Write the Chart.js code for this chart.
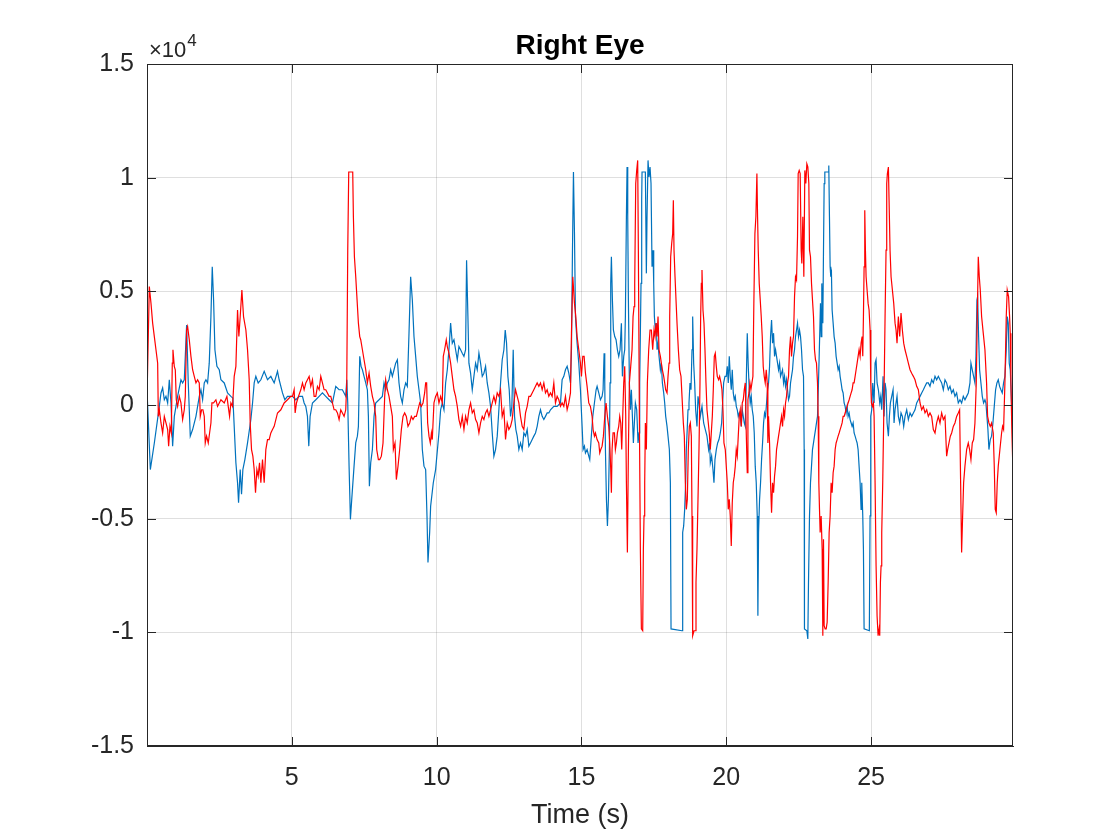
<!DOCTYPE html>
<html>
<head>
<meta charset="utf-8">
<script src="https://cdn.jsdelivr.net/npm/chart.js@4.4.1/dist/chart.umd.min.js"></script>
<style>
  html, body { margin: 0; padding: 0; background: #fff; }
  canvas { display: block; }
</style>
</head>
<body>
<canvas id="grafico" width="1120" height="840"></canvas>
<script>
var trazoAzul = [[0,670],[0.115,-2840],[0.253,-1670],[0.425,-60],[0.483,530],[0.54,750],[0.598,230],[0.655,380],[0.713,90],[0.77,1110],[0.828,90],[0.885,-1810],[0.943,-500],[1.057,380],[1.172,1110],[1.23,970],[1.287,1110],[1.368,3520],[1.425,970],[1.494,-1370],[1.575,-1080],[1.69,-500],[1.805,380],[1.862,670],[1.92,230],[1.977,970],[2.034,1110],[2.092,970],[2.149,1840],[2.207,3890],[2.253,6080],[2.299,4620],[2.345,2430],[2.414,1700],[2.494,1550],[2.552,1110],[2.667,970],[2.782,530],[2.896,380],[2.965,310],[3.011,-940],[3.069,-2540],[3.126,-3420],[3.161,-4300],[3.218,-2840],[3.264,-3930],[3.31,-2840],[3.379,-2400],[3.471,-1670],[3.586,-640],[3.644,90],[3.701,970],[3.758,1260],[3.839,970],[3.931,1110],[4.046,1480],[4.161,1110],[4.276,1260],[4.391,970],[4.506,1480],[4.563,1110],[4.678,530],[4.759,230],[4.85,380],[4.965,380],
[5.023,380],[5.138,230],[5.253,380],[5.368,380],[5.425,90],[5.483,-60],[5.54,-500],[5.586,-1810],[5.632,-500],[5.713,90],[5.828,230],[5.943,380],[6.057,530],[6.172,380],[6.287,230],[6.402,90],[6.517,820],[6.632,670],[6.747,670],[6.862,380],[6.897,1110],[6.931,90],[6.977,-2690],[7.023,-5030],[7.069,-4150],[7.149,-2690],[7.207,-1670],[7.264,-1370],[7.299,-940],[7.345,2140],[7.391,1700],[7.437,1550],[7.494,1260],[7.552,970],[7.609,670],[7.644,-500],[7.678,-3570],[7.724,-2540],[7.782,-1960],[7.839,-500],[7.896,90],[8.011,230],[8.126,380],[8.184,970],[8.241,670],[8.299,970],[8.356,1110],[8.414,1550],[8.471,1260],[8.529,1550],[8.586,1840],[8.644,1990],[8.701,970],[8.758,380],[8.816,90],[8.873,670],[8.931,970],[8.988,820],[9.046,3160],[9.103,5640],[9.161,4620],[9.218,3010],[9.276,2140],[9.333,1260],[9.391,670],[9.448,90],[9.506,-1960],[9.563,-2690],[9.621,-2840],[9.667,-4880],[9.701,-6930],[9.759,-5610],[9.793,-4450],[9.885,-3420],[9.965,-2840],
[10.08,-1230],[10.138,-210],[10.195,90],[10.253,-210],[10.31,970],[10.368,1550],[10.425,2430],[10.483,3600],[10.54,2720],[10.598,2870],[10.655,2430],[10.713,1990],[10.77,2570],[10.828,2430],[10.885,2280],[10.943,2140],[11,2430],[11.034,6370],[11.08,3890],[11.115,1840],[11.172,1400],[11.23,670],[11.287,1260],[11.345,1840],[11.402,1550],[11.46,2280],[11.517,1840],[11.575,1260],[11.632,1400],[11.69,1700],[11.747,970],[11.805,530],[11.862,-60],[11.92,-1230],[11.977,-2250],[12.034,-1960],[12.092,-1370],[12.149,-210],[12.207,970],[12.264,1990],[12.322,2430],[12.368,3300],[12.414,2720],[12.46,1260],[12.506,670],[12.552,-500],[12.598,-60],[12.644,2430],[12.69,-500],[12.736,-1080],[12.782,-1370],[12.839,-1960],[12.896,-1670],[12.954,-1960],[13.011,-1230],[13.069,-1370],[13.126,-1080],[13.184,-1810],[13.241,-1670],[13.299,-1520],[13.356,-1370],[13.414,-1230],[13.471,-940],[13.529,-500],[13.586,-210],[13.644,-500],[13.701,-640],[13.758,-500],[13.816,-350],[13.873,-350],[13.931,-210],[14.046,-60],[14.161,-60],[14.276,90],[14.333,1110],[14.391,1260],[14.448,1550],[14.506,1700],[14.563,1400],[14.621,970],[14.655,2430],[14.69,6810],[14.724,10250],[14.759,7540],[14.793,3890],[14.85,2720],[14.908,1840],[14.965,670],
[15.023,-940],[15.057,-1960],[15.103,-1810],[15.138,-2110],[15.195,-1960],[15.253,-2250],[15.287,-2400],[15.333,-1520],[15.391,-500],[15.448,90],[15.506,670],[15.54,820],[15.598,530],[15.655,230],[15.713,380],[15.747,670],[15.782,2280],[15.805,970],[15.828,-1960],[15.862,-4150],[15.897,-5320],[15.931,-4150],[15.965,-1960],[15.988,970],[16.011,5350],[16.034,6520],[16.069,4620],[16.103,3300],[16.149,3010],[16.195,2870],[16.241,2430],[16.287,2140],[16.333,2430],[16.379,3600],[16.414,1260],[16.46,2140],[16.494,2430],[16.517,3890],[16.552,8280],[16.575,10470],[16.598,8280],[16.621,4620],[16.655,970],[16.69,-210],[16.724,670],[16.759,-500],[16.793,-1670],[16.827,-790],[16.862,90],[16.908,-210],[16.954,-1670],[16.988,-1230],[17.011,970],[17.034,3160],[17.057,5350],[17.08,9010],[17.092,10250],[17.207,10250],[17.241,5790],[17.264,8280],[17.299,10760],[17.333,10030],[17.368,10470],[17.402,9740],[17.437,6080],[17.471,6810],[17.495,5350],[17.518,3890],[17.552,3300],[17.587,3600],[17.61,2430],[17.644,2720],[17.679,2140],[17.725,1550],[17.759,1840],[17.794,970],[17.84,530],[17.874,90],[17.909,-500],[17.955,-940],[17.989,-1370],[18.035,-1960],[18.07,-3420],[18.093,-9850],[18.472,-9930],[18.495,-5610],[18.529,-5320],[18.564,-4590],[18.598,-3420],[18.621,-1960],[18.656,-940],[18.679,-210],[18.713,90],[18.748,970],[18.782,670],[18.817,2430],[18.84,3890],[18.874,1840],[18.909,970],[18.943,-210],[18.989,-940],[19.024,380],[19.058,90],[19.104,-500],[19.162,-60],[19.219,-790],[19.277,-1080],[19.334,-1370],[19.391,-1960],[19.426,-1670],[19.449,-2540],[19.495,-2250],[19.541,-2840],[19.575,-3420],[19.61,-2400],[19.656,-1960],[19.702,-1670],[19.748,-1520],[19.794,-1230],[19.84,-790],[19.874,90],[19.909,970],[19.955,1260],
[20,1260],[20.035,1700],[20.069,970],[20.104,2140],[20.138,1260],[20.173,670],[20.207,1550],[20.242,530],[20.276,230],[20.311,380],[20.345,-60],[20.38,-210],[20.414,-500],[20.449,-350],[20.483,-500],[20.518,-940],[20.552,-210],[20.587,-500],[20.621,-790],[20.656,-940],[20.69,970],[20.725,3160],[20.759,1700],[20.794,670],[20.828,90],[20.863,380],[20.897,-210],[20.932,-500],[20.966,-1230],[21,-2690],[21.035,-3420],[21.069,-4880],[21.092,-9270],[21.115,-5610],[21.15,-4150],[21.184,-3420],[21.219,-2400],[21.253,-1670],[21.288,-790],[21.322,-350],[21.357,-500],[21.391,90],[21.426,670],[21.46,970],[21.495,1700],[21.529,3010],[21.564,3740],[21.598,2720],[21.633,3160],[21.667,2140],[21.702,2430],[21.736,2140],[21.771,1840],[21.805,1550],[21.84,1840],[21.874,1260],[21.909,1400],[21.943,1550],[21.978,970],[22.012,1260],[22.046,820],[22.081,1110],[22.115,670],[22.15,230],[22.184,380],[22.219,970],[22.253,1260],[22.288,1550],[22.322,2140],[22.357,2430],[22.391,3010],[22.426,3300],[22.46,3600],[22.495,3010],[22.529,3300],[22.564,3010],[22.598,2430],[22.633,1550],[22.667,1260],[22.69,-1960],[22.7,-9850],[22.782,-9930],[22.816,-10290],[22.839,-7810],[22.874,-4880],[22.908,-3420],[22.943,-2690],[22.977,-1960],[23.012,-1670],[23.046,-1370],[23.081,-1080],[23.115,-790],[23.15,-500],[23.184,970],[23.219,2720],[23.253,4470],[23.276,3010],[23.299,5350],[23.334,3600],[23.357,6810],[23.38,9740],[23.403,10250],[23.517,10250],[23.54,10540],[23.563,8280],[23.586,6080],[23.609,5640],[23.632,5790],[23.655,4180],[23.69,3600],[23.724,3010],[23.759,2720],[23.793,2140],[23.828,1840],[23.862,1550],[23.897,1700],[23.931,1260],[23.966,970],[24,670],[24.035,530],[24.069,90],[24.104,-60],[24.138,-350],[24.173,-60],[24.207,-500],[24.242,-350],[24.276,-640],[24.311,-790],[24.345,-940],[24.38,-790],[24.414,-1230],[24.449,-1370],[24.483,-1520],[24.518,-1670],[24.552,-1960],[24.586,-2690],[24.621,-3420],[24.655,-4590],[24.678,-3420],[24.713,-4880],[24.736,-6350],[24.759,-9850],[24.94,-9930],[24.965,-4880],[24.988,-500],
[25.023,-210],[25.057,970],[25.103,90],[25.138,1840],[25.172,1990],[25.207,970],[25.253,670],[25.299,90],[25.333,380],[25.368,-210],[25.414,1260],[25.448,-500],[25.483,970],[25.517,670],[25.552,-790],[25.598,-1370],[25.632,-500],[25.667,90],[25.713,380],[25.759,670],[25.793,-790],[25.828,-210],[25.862,90],[25.896,380],[25.942,-500],[25.988,-790],[26.034,-350],[26.08,-500],[26.126,-940],[26.172,-500],[26.23,-210],[26.287,-640],[26.345,-350],[26.402,-500],[26.46,-350],[26.517,-210],[26.575,90],[26.632,230],[26.69,380],[26.747,530],[26.805,670],[26.862,820],[26.92,970],[26.977,970],[27.034,820],[27.092,1110],[27.149,970],[27.207,1260],[27.264,1110],[27.322,1260],[27.379,1110],[27.437,970],[27.494,670],[27.552,1110],[27.609,970],[27.667,670],[27.724,820],[27.782,530],[27.839,670],[27.896,380],[27.954,530],[28.011,90],[28.069,230],[28.126,90],[28.184,380],[28.241,230],[28.299,380],[28.356,530],[28.414,970],[28.448,1840],[28.494,1550],[28.54,1260],[28.586,970],[28.621,2140],[28.655,4620],[28.678,4770],[28.713,3010],[28.747,1550],[28.793,970],[28.839,380],[28.885,90],[28.931,230],[28.965,90],[29,-500],[29.034,-1080],[29.069,-1960],[29.115,-1520],[29.161,-1370],[29.207,-790],[29.253,-60],[29.299,670],[29.345,970],[29.391,1110],[29.437,820],[29.483,670],[29.529,530],[29.575,970],[29.621,1260],[29.667,2430],[29.701,3890],[29.736,3600],[29.77,1840],[29.805,1550],[29.85,90],[29.897,-1520]];

var trazoRojo = [[0,230],[0.08,5210],[0.138,4470],[0.195,3600],[0.253,3010],[0.31,2430],[0.368,1840],[0.391,-500],[0.425,-210],[0.483,-790],[0.54,-1230],[0.598,-500],[0.655,-790],[0.713,-1080],[0.747,-1810],[0.793,-940],[0.839,-1230],[0.873,1840],[0.896,2430],[0.942,1700],[0.977,1550],[1.011,230],[1.057,-60],[1.115,380],[1.172,90],[1.23,-640],[1.287,-210],[1.322,380],[1.368,3300],[1.402,3450],[1.46,2870],[1.517,2140],[1.575,1550],[1.632,1260],[1.69,970],[1.747,1110],[1.805,970],[1.839,-500],[1.885,-210],[1.931,-210],[1.977,-500],[2.011,-1670],[2.057,-1370],[2.115,-1670],[2.161,-1230],[2.207,-790],[2.241,90],[2.299,90],[2.379,230],[2.437,-60],[2.552,230],[2.667,90],[2.759,380],[2.805,-60],[2.851,-500],[2.896,90],[2.954,-60],[3.011,1260],[3.069,1700],[3.126,4180],[3.172,3010],[3.218,3890],[3.276,5060],[3.333,3890],[3.414,3300],[3.471,2430],[3.529,1110],[3.563,-790],[3.609,-1960],[3.655,-2250],[3.701,-2840],[3.747,-3860],[3.793,-2840],[3.839,-3130],[3.885,-2540],[3.931,-3420],[3.988,-2400],[4.046,-3420],[4.103,-1960],[4.161,-1520],[4.218,-1520],[4.276,-1230],[4.333,-1080],[4.391,-940],[4.506,-350],[4.621,-210],[4.736,90],[4.851,230],[4.965,380],
[5.023,380],[5.08,670],[5.115,-350],[5.161,90],[5.23,380],[5.31,670],[5.368,970],[5.425,670],[5.483,970],[5.54,1110],[5.598,1260],[5.655,820],[5.713,1110],[5.77,380],[5.828,380],[5.885,820],[5.943,670],[6,1260],[6.057,970],[6.115,670],[6.172,670],[6.23,530],[6.287,380],[6.345,380],[6.402,90],[6.46,-210],[6.517,-210],[6.575,-350],[6.632,-640],[6.69,-210],[6.747,-350],[6.805,-500],[6.862,-210],[6.897,970],[6.931,6810],[6.965,10250],[7.103,10250],[7.126,8280],[7.161,6520],[7.207,5640],[7.253,4620],[7.299,3600],[7.345,3010],[7.379,2870],[7.437,2430],[7.494,1990],[7.552,1550],[7.609,970],[7.667,1400],[7.724,820],[7.782,380],[7.839,90],[7.896,-500],[7.931,-1960],[7.989,-2400],[8.034,-2400],[8.092,-2250],[8.149,-1670],[8.207,380],[8.241,1110],[8.299,670],[8.356,380],[8.414,-60],[8.471,-500],[8.506,-1960],[8.563,-1670],[8.609,-3280],[8.667,-2690],[8.724,-1960],[8.782,-1080],[8.839,-500],[8.896,-350],[8.954,-500],[9.011,-940],[9.069,-790],[9.126,-500],[9.184,-640],[9.241,-500],[9.299,-500],[9.356,-210],[9.414,90],[9.471,-60],[9.529,90],[9.586,530],[9.621,970],[9.655,970],[9.69,-790],[9.736,-1370],[9.782,-1670],[9.82,-1230],[9.85,-1520],[9.908,90],[9.965,380],
[10.023,530],[10.08,90],[10.138,380],[10.195,90],[10.23,2140],[10.276,2430],[10.333,2870],[10.368,2570],[10.425,2280],[10.483,1840],[10.54,1260],[10.598,670],[10.655,380],[10.713,-60],[10.77,-640],[10.828,-940],[10.885,-500],[10.943,-1080],[11,-500],[11.057,-790],[11.115,-210],[11.172,90],[11.23,-350],[11.287,-210],[11.345,-640],[11.402,-790],[11.46,-1230],[11.517,-790],[11.575,-500],[11.632,-640],[11.69,-350],[11.747,-210],[11.805,-500],[11.862,-210],[11.92,90],[11.977,380],[12.034,90],[12.092,530],[12.149,380],[12.207,670],[12.264,-500],[12.322,-210],[12.379,-1520],[12.437,-790],[12.494,-1080],[12.552,-940],[12.609,-640],[12.667,90],[12.724,670],[12.782,380],[12.839,90],[12.896,-500],[12.954,-940],[13.011,-1080],[13.069,-350],[13.126,-60],[13.184,380],[13.241,380],[13.299,530],[13.356,670],[13.414,820],[13.471,970],[13.529,820],[13.586,970],[13.644,670],[13.701,970],[13.758,530],[13.816,670],[13.873,380],[13.931,530],[13.988,380],[14.046,970],[14.103,90],[14.161,380],[14.218,230],[14.276,-60],[14.333,90],[14.391,-60],[14.448,380],[14.506,-210],[14.563,90],[14.621,530],[14.655,3160],[14.701,5640],[14.759,4470],[14.805,3890],[14.85,3010],[14.908,2430],[14.965,1840],
[15,1260],[15.046,2140],[15.092,2140],[15.138,1400],[15.195,820],[15.253,90],[15.31,-60],[15.368,-500],[15.402,-1080],[15.448,-1370],[15.483,-1230],[15.54,-1520],[15.598,-1670],[15.632,-2110],[15.667,-1960],[15.713,-1810],[15.758,-1370],[15.805,-500],[15.85,90],[15.896,-500],[15.942,-940],[15.977,-1670],[16.011,-2840],[16.034,-3860],[16.057,-1960],[16.092,-1230],[16.138,-1230],[16.172,-1960],[16.207,-1670],[16.241,-1230],[16.287,-940],[16.322,-500],[16.356,-790],[16.391,-1960],[16.425,-500],[16.46,970],[16.494,1700],[16.529,-500],[16.552,-3420],[16.586,-6490],[16.621,-1960],[16.655,970],[16.701,1700],[16.747,2430],[16.782,3890],[16.816,4330],[16.839,5350],[16.874,9740],[16.908,10320],[16.942,10760],[16.965,6810],[17,-500],[17.034,-6350],[17.069,-9850],[17.115,-9930],[17.138,-6350],[17.161,-4880],[17.184,-3420],[17.207,-790],[17.241,-1960],[17.276,970],[17.322,2430],[17.368,3300],[17.414,3300],[17.46,2430],[17.506,3300],[17.541,3010],[17.575,3600],[17.61,3010],[17.644,3890],[17.679,2430],[17.725,2140],[17.759,1840],[17.794,1550],[17.84,1260],[17.874,970],[17.909,670],[17.955,530],[17.989,1260],[18.024,1840],[18.047,3890],[18.081,6520],[18.116,7110],[18.15,7540],[18.173,9010],[18.196,6810],[18.231,5640],[18.265,4620],[18.3,3600],[18.346,2430],[18.391,1550],[18.437,1260],[18.472,380],[18.518,-790],[18.552,-1370],[18.587,-3420],[18.621,-4590],[18.656,-4150],[18.69,-1960],[18.725,-940],[18.759,-790],[18.794,-1370],[18.817,-4880],[18.84,-10150],[18.886,-9930],[18.932,-9930],[18.955,-7810],[18.989,-6350],[19.024,-4150],[19.058,-1960],[19.093,970],[19.116,3890],[19.139,5350],[19.162,5940],[19.196,4180],[19.231,3600],[19.265,2430],[19.3,970],[19.334,-210],[19.38,-790],[19.414,-1230],[19.449,-1960],[19.483,-1230],[19.518,-500],[19.552,670],[19.587,2140],[19.621,2280],[19.656,1700],[19.69,1260],[19.736,1110],[19.771,1260],[19.817,970],[19.851,670],[19.886,-210],[19.92,-1670],[19.966,-1960],
[20,-2690],[20.035,-3420],[20.069,-4590],[20.104,-4150],[20.138,-4880],[20.173,-6200],[20.207,-4300],[20.242,-3420],[20.276,-3130],[20.311,-2690],[20.345,-1960],[20.38,-2250],[20.414,-1370],[20.449,-500],[20.483,-210],[20.518,-940],[20.552,90],[20.587,230],[20.621,670],[20.656,970],[20.69,-1230],[20.725,-2980],[20.748,230],[20.782,530],[20.817,970],[20.851,670],[20.886,970],[20.92,1260],[20.954,4620],[20.989,7540],[21.023,8280],[21.058,10180],[21.081,8280],[21.104,6810],[21.138,5350],[21.173,4620],[21.207,3890],[21.242,3010],[21.276,1700],[21.311,1260],[21.345,970],[21.38,1550],[21.414,970],[21.437,-1670],[21.46,-500],[21.495,-1670],[21.529,-3420],[21.564,-4740],[21.598,-3420],[21.633,-3860],[21.667,-3130],[21.702,-2690],[21.736,-1960],[21.771,-1670],[21.805,-1370],[21.84,-1080],[21.874,-790],[21.909,-500],[21.943,-940],[21.978,-210],[22.012,-500],[22.046,90],[22.081,380],[22.115,970],[22.15,1260],[22.184,2430],[22.219,3010],[22.253,2140],[22.288,2720],[22.322,3010],[22.357,4770],[22.391,5640],[22.426,5500],[22.46,7400],[22.483,10180],[22.518,10320],[22.552,10180],[22.586,6810],[22.609,6230],[22.644,8280],[22.678,5640],[22.713,10320],[22.747,9740],[22.782,10610],[22.816,10470],[22.851,9740],[22.874,6810],[22.908,6520],[22.943,5350],[22.977,4620],[23.012,3890],[23.046,2430],[23.081,1990],[23.115,1840],[23.15,970],[23.173,-500],[23.196,-3420],[23.219,-4590],[23.242,-5610],[23.276,-4880],[23.311,-6350],[23.334,-10150],[23.357,-5910],[23.38,-9710],[23.414,-9850],[23.449,-9850],[23.483,-9560],[23.518,-7810],[23.552,-5610],[23.586,-4880],[23.621,-3420],[23.655,-3860],[23.69,-2980],[23.724,-2690],[23.759,-1960],[23.793,-1670],[23.828,-1520],[23.862,-1370],[23.897,-1230],[23.931,-1080],[23.966,-940],[24,-790],[24.035,-500],[24.069,-500],[24.104,-350],[24.138,-210],[24.173,-60],[24.207,90],[24.242,230],[24.276,380],[24.311,530],[24.345,670],[24.38,970],[24.414,970],[24.449,1260],[24.483,1550],[24.518,1840],[24.552,2140],[24.586,2430],[24.621,2140],[24.655,2720],[24.69,3010],[24.713,2140],[24.736,3890],[24.759,6080],[24.782,8570],[24.805,6810],[24.828,5640],[24.862,5060],[24.897,4470],[24.931,4180],[24.966,3300],[24.989,970],
[25.012,90],[25.046,-60],[25.081,90],[25.104,-500],[25.138,-3420],[25.173,-7080],[25.207,-9270],[25.242,-10150],[25.276,-9850],[25.299,-10150],[25.322,-7810],[25.345,-7080],[25.368,-5610],[25.402,-3420],[25.437,-500],[25.483,3890],[25.517,6810],[25.54,9740],[25.563,10180],[25.598,10470],[25.621,9010],[25.655,6810],[25.69,5640],[25.736,5060],[25.782,4470],[25.828,3600],[25.862,3300],[25.896,2720],[25.942,3890],[25.988,3010],[26.034,4040],[26.08,3300],[26.126,2720],[26.172,2430],[26.23,2140],[26.287,1840],[26.345,1550],[26.402,1400],[26.46,1260],[26.517,1110],[26.575,820],[26.632,670],[26.69,90],[26.747,-210],[26.805,-60],[26.862,-350],[26.92,-210],[26.977,-500],[27.034,-350],[27.092,-500],[27.149,-1080],[27.207,-1230],[27.264,-790],[27.322,-500],[27.379,-790],[27.437,-350],[27.494,-640],[27.552,-500],[27.609,-2250],[27.644,-1960],[27.69,-1670],[27.736,-1370],[27.782,-1230],[27.839,-940],[27.896,-790],[27.954,-500],[28.011,-350],[28.057,-210],[28.092,-3420],[28.126,-6490],[28.161,-4880],[28.195,-3420],[28.241,-2690],[28.299,-1960],[28.356,-1670],[28.402,-1960],[28.448,-2400],[28.494,-1670],[28.54,-1520],[28.586,-790],[28.632,970],[28.667,3890],[28.701,6520],[28.736,5640],[28.77,5060],[28.816,3890],[28.873,3160],[28.931,2430],[28.988,970],[29.023,-500],[29.069,-790],[29.115,-940],[29.161,-790],[29.218,-1230],[29.253,-2690],[29.287,-4590],[29.322,-4740],[29.356,-3420],[29.391,-2690],[29.448,-1960],[29.506,-1230],[29.54,-940],[29.575,-1080],[29.621,970],[29.667,3890],[29.701,5060],[29.747,4770],[29.782,3890],[29.805,3160],[29.828,970],[29.862,-1230],[29.897,-2840]];

var ticksX = [5, 10, 15, 20, 25];
var ticksY = [-15000, -10000, -5000, 0, 5000, 10000, 15000];
var tituloGrafico = "Right Eye";
var etiquetaX = "Time (s)";
var fuente = '"Liberation Sans", Arial, Helvetica, sans-serif';
var gris = '#262626';

function aPuntos(pares){
	return pares.map(function(p){ return {x: p[0], y: p[1]}; });
}

// caja, marcas hacia adentro, titulo y el x10^4 al estilo matlab
var marco = {
	id: 'marco',
	afterDraw: function(chart){
		var ctx = chart.ctx, a = chart.chartArea;
		var sx = chart.scales.x, sy = chart.scales.y;
		ctx.save();
		ctx.strokeStyle = gris;
		ctx.lineWidth = 1;
		ctx.strokeRect(a.left + 0.5, a.top + 0.5, a.right - a.left - 1, a.bottom - a.top - 1);
		ctx.beginPath();
		ticksX.forEach(function(v){
			var px = Math.round(sx.getPixelForValue(v)) + 0.5;
			ctx.moveTo(px, a.bottom); ctx.lineTo(px, a.bottom - 9);
			ctx.moveTo(px, a.top); ctx.lineTo(px, a.top + 9);
		});
		ticksY.forEach(function(v){
			var py = Math.round(sy.getPixelForValue(v)) + 0.5;
			ctx.moveTo(a.left, py); ctx.lineTo(a.left + 9, py);
			ctx.moveTo(a.right, py); ctx.lineTo(a.right - 9, py);
		});
		ctx.stroke();

		ctx.fillStyle = '#000';
		ctx.font = 'bold 28px ' + fuente;
		ctx.textAlign = 'center';
		ctx.textBaseline = 'alphabetic';
		ctx.fillText(tituloGrafico, (a.left + a.right) / 2, a.top - 10);

		ctx.fillStyle = gris;
		ctx.textAlign = 'left';
		ctx.font = '22px ' + fuente;
		ctx.fillText('\u00d710', a.left + 2, a.top - 7);
		var w = ctx.measureText('\u00d710').width;
		ctx.font = '17px ' + fuente;
		ctx.fillText('4', a.left + 3 + w, a.top - 18);
		ctx.restore();
	}
};

new Chart(document.getElementById("grafico"), {
	type: 'line',
	data: {
		datasets: [
			{
				label: 'rojo',
				data: aPuntos(trazoRojo),
				borderColor: '#ff0000',
				borderWidth: 1.2,
				pointRadius: 0,
				tension: 0,
				order: 0
			},
			{
				label: 'azul',
				data: aPuntos(trazoAzul),
				borderColor: '#0072bd',
				borderWidth: 1.2,
				pointRadius: 0,
				tension: 0,
				order: 1
			}
		]
	},
	options: {
		responsive: false,
		devicePixelRatio: 1,
		animation: false,
		events: [],
		layout: { padding: { left: 0, top: 64, right: 107, bottom: 0 } },
		plugins: { legend: { display: false }, tooltip: { enabled: false }, title: { display: false } },
		scales: {
			x: {
				type: 'linear',
				min: 0,
				max: 29.9,
				afterFit: function(s){ s.height = 94; },
				afterBuildTicks: function(s){ s.ticks = ticksX.map(function(v){ return {value: v}; }); },
				grid: { color: 'rgba(38,38,38,0.15)', drawTicks: false },
				border: { display: true, color: gris },
				ticks: { color: gris, font: { family: fuente, size: 25 }, padding: 17, maxRotation: 0, autoSkip: false },
				title: { display: true, text: etiquetaX, color: gris, font: { family: fuente, size: 27 }, padding: { top: 0, bottom: 8 } }
			},
			y: {
				min: -15000,
				max: 15000,
				afterFit: function(s){ s.width = 147; },
				afterBuildTicks: function(s){ s.ticks = ticksY.map(function(v){ return {value: v}; }); },
				grid: { color: 'rgba(38,38,38,0.15)', drawTicks: false },
				border: { display: true, color: gris },
				ticks: {
					color: gris,
					font: { family: fuente, size: 25 },
					padding: 13,
					callback: function(v){ return String(v / 10000); }
				}
			}
		}
	},
	plugins: [marco]
});
</script>
</body>
</html>
